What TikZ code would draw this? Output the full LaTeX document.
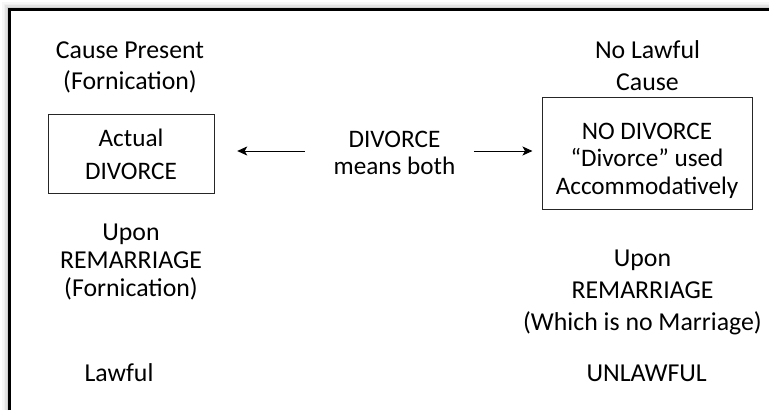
\documentclass[tikz,border=0pt]{standalone}
\usepackage{fontspec}
\setmainfont{Carlito}
\usetikzlibrary{arrows.meta}

\begin{document}
\begin{tikzpicture}[x=1pt, y=-1pt]

% --- Define reusable styles and key coordinates ---
\tikzset{
    txt/.style={font=\fontsize{25.8}{#1}\selectfont, align=center, inner sep=0pt, anchor=base},
    txt/.default=31,
    intxt/.style={txt=#1, font=\fontsize{25.2}{#1}\selectfont},
    box/.style={draw=black!85, line width=1pt, inner sep=0pt},
    arr/.style={line width=1pt, -{Stealth[length=10pt, width=9pt, inset=2.5pt]}}
}
% Corner of the frame and the height of the two arrows
\def\frameedge{9.5}
\def\arrowlevel{151}

\useasboundingbox (0,0) rectangle (769,410);

% 1. Draw the soft shadow and the frame
\foreach \off/\shade in {2.25/18, 3.75/11, 5.25/6, 6.75/3} {
    \draw[line width=1.5pt, black!\shade] ({\frameedge-\off},410) -- ({\frameedge-\off},{\frameedge-\off}) -- (769,{\frameedge-\off});
}
\draw[line width=3pt] (\frameedge,410) -- (\frameedge,\frameedge) -- (769,\frameedge);

% 2. Draw the two boxes
\node[box, minimum width=166pt, minimum height=79pt] (actual) at (131,153.5) {};
\node[box, minimum width=210pt, minimum height=112pt] (nodiv) at (647,153) {};

% 3. Texts in the boxes (base = baseline of the last line)
\node[intxt=32.6] (actualtext) at (131,179.3) {Actual\\DIVORCE};
\node[intxt=27.7] (nodivtext) at (647,194.4) {NO DIVORCE\\“Divorce” used\\Accommodatively};

% 4. Texts above and below the boxes
\node[txt] (present) at (130,89.3) {Cause Present\\(Fornication)};
\node[txt=32.7] (nocause) at (647.5,90.7) {No Lawful\\Cause};
\node[txt=28] (uponleft) at (131,296.7) {Upon\\REMARRIAGE\\(Fornication)};
\node[txt=32] (uponright) at (642.5,330.7) {Upon\\REMARRIAGE\\(Which is no Marriage)};
\node[txt] (lawful) at (119,381.7) {Lawful};
\node[txt] (unlawful) at (646.7,381.7) {UNLAWFUL};

% 5. Draw the middle text and its two arrows
\node[intxt=26.3] (both) at (394.5,174) {DIVORCE\\means both};
\draw[arr, shorten <=28.6pt, shorten >=22.7pt] (both.west |- 0,\arrowlevel) -- (actual.east |- 0,\arrowlevel);
\draw[arr, shorten <=18.3pt, shorten >=9pt] (both.east |- 0,\arrowlevel) -- (nodiv.west |- 0,\arrowlevel);

\end{tikzpicture}
\end{document}
